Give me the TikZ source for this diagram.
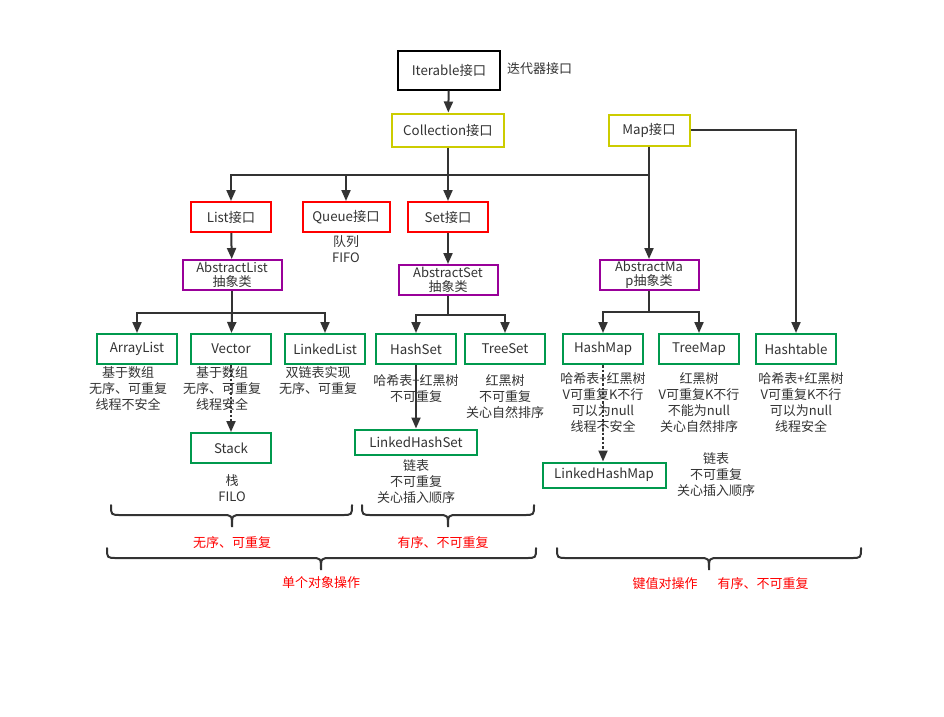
\documentclass[tikz,border=0pt]{standalone}
\usepackage{fontspec}
\setmainfont{Noto Sans CJK SC}
\usetikzlibrary{arrows.meta}

\definecolor{ifyellow}{HTML}{CCCC00}
\definecolor{ifred}{HTML}{FF0000}
\definecolor{abspurple}{HTML}{990099}
\definecolor{implgreen}{HTML}{00994D}
\definecolor{inkgray}{HTML}{333333}

\tikzset{
  box/.style={draw, line width=2pt, inner sep=0pt, align=center, text=inkgray,
    font=\fontsize{13.3}{15}\selectfont, minimum height=30},
  ifbox/.style={box, draw=ifred, minimum width=80},
  absbox/.style={box, draw=abspurple, minimum width=99, font=\fontsize{13}{14}\selectfont},
  implbox/.style={box, draw=implgreen, minimum width=80},
  note/.style={align=center, text=inkgray, inner sep=0pt, font=\fontsize{13}{16}\selectfont},
  rednote/.style={note, text=ifred},
  line/.style={draw=inkgray, line width=2pt},
  link/.style={line, -{Triangle[length=11pt,width=9pt]}},
  dotlink/.style={link, dash pattern=on 2.5pt off 2pt},
  bracepath/.style={draw=inkgray, line width=2pt, line cap=round}
}

% accolade vers le bas : x gauche, x milieu, x droite, y
\newcommand\curly[4]{%
  \draw[bracepath] (#1,#4) .. controls (#1,#4+10) .. (#1+10,#4+10) -- (#2-10,#4+10)
    .. controls (#2,#4+10) .. (#2,#4+22) .. controls (#2,#4+10) .. (#2+10,#4+10)
    -- (#3-10,#4+10) .. controls (#3,#4+10) .. (#3,#4);}

\begin{document}
\begin{tikzpicture}[x=1pt, y=-1pt]
    \useasboundingbox[fill=white] (0,0) rectangle (944,716);

    % Interfaces
    \node[box, draw=black, minimum width=102, minimum height=39] (iter) at (449,70) {Iterable接口};
    \node[note, anchor=west] (iternote) at (507,69) {迭代器接口};
    \node[box, draw=ifyellow, minimum width=112, minimum height=33] (coll) at (448,130) {Collection接口};
    \node[box, draw=ifyellow, minimum width=81, minimum height=31] (map) at (649,130) {Map接口};
    \node[ifbox] (list) at (231,217) {List接口};
    \node[ifbox, minimum width=87] (queue) at (346,217) {Queue接口};
    \node[ifbox] (set) at (448,217) {Set接口};
    \node[note] (queuenote) at (346,249) {队列\\FIFO};

    % Classes abstraites
    \node[absbox] (alist) at (232,275) {AbstractList\\抽象类};
    \node[absbox] (aset) at (448,280) {AbstractSet\\抽象类};
    \node[absbox] (amap) at (649,275) {AbstractMa\\p抽象类};

    % Implementations
    \node[implbox] (arr) at (137,349) {ArrayList};
    \node[implbox] (vec) at (231,349) {Vector};
    \node[implbox] (llist) at (325,349) {LinkedList};
    \node[implbox] (hset) at (416,349) {HashSet};
    \node[implbox] (tset) at (505,349) {TreeSet};
    \node[implbox] (hmap) at (603,349) {HashMap};
    \node[implbox] (tmap) at (699,349) {TreeMap};
    \node[implbox] (htable) at (796,349) {Hashtable};
    \node[implbox] (stack) at (231,448) {Stack};
    \node[implbox, minimum width=122, minimum height=25] (lhset) at (416,442) {LinkedHashSet};
    \node[implbox, minimum width=123, minimum height=25] (lhmap) at (604,475) {LinkedHashMap};

    % Notes
    \node[note] (arrnote) at (128,389) {基于数组\\无序、可重复\\线程不安全};
    \node[note] (vecnote) at (222,389) {基于数组\\无序、可重复\\线程安全};
    \node[note] (llnote) at (318,381) {双链表实现\\无序、可重复};
    \node[note] (hsnote) at (416,389) {哈希表+红黑树\\不可重复};
    \node[note] (tsnote) at (505,397) {红黑树\\不可重复\\关心自然排序};
    \node[note] (stnote) at (232,488) {栈\\FILO};
    \node[note] (lhsnote) at (416,482) {链表\\不可重复\\关心插入顺序};
    \node[note] (hmnote) at (603,403) {哈希表+红黑树\\V可重复K不行\\可以为null\\线程不安全};
    \node[note] (tmnote) at (699,403) {红黑树\\V可重复K不行\\不能为null\\关心自然排序};
    \node[note] (htnote) at (801,403) {哈希表+红黑树\\V可重复K不行\\可以为null\\线程安全};
    \node[note] (lhmnote) at (716,475) {链表\\不可重复\\关心插入顺序};

    % Fleches
    \coordinate (cjoin) at (coll.south |- 0,175);
    \coordinate (ljoin) at (alist.south |- 0,313);
    \coordinate (sjoin) at (aset.south |- 0,315);
    \coordinate (mjoin) at (amap.south |- 0,312);

    \draw[link] (iter) -- (coll);
    \draw[line] (coll) -- (cjoin);
    \draw[link] (cjoin) -| (list);
    \draw[link] (cjoin) -| (queue);
    \draw[link] (cjoin) -- (set);
    \draw[line] (cjoin) -- (cjoin -| amap);
    \draw[link] (map) -- (amap);
    \draw[link] (map) -| (htable);
    \draw[link] (list) -- (alist);
    \draw[link] (set) -- (aset);

    \draw[line] (alist) -- (ljoin);
    \draw[link] (ljoin) -| (arr);
    \draw[link] (ljoin) -- (vec);
    \draw[link] (ljoin) -| (llist);

    \draw[line] (aset) -- (sjoin);
    \draw[link] (sjoin) -| (hset);
    \draw[link] (sjoin) -| (tset);

    \draw[line] (amap) -- (mjoin);
    \draw[link] (mjoin) -| (hmap);
    \draw[link] (mjoin) -| (tmap);

    \draw[dotlink] (vec) -- (stack);
    \draw[link] (hset) -- (lhset);
    \draw[dotlink] (hmap) -- (hmap |- lhmap.north);

    % Accolades
    \curly{111}{232}{352}{505}
    \curly{362}{448}{534}{505}
    \curly{107}{321}{536}{548}
    \curly{557}{709}{861}{548}

    \node[rednote] (unord) at (232,543) {无序、可重复};
    \node[rednote] (ordset) at (443,543) {有序、不可重复};
    \node[rednote] (single) at (321,583) {单个对象操作};
    \node[rednote] (kvop) at (665,584) {键值对操作};
    \node[rednote] (ordmap) at (763,584) {有序、不可重复};
\end{tikzpicture}
\end{document}
